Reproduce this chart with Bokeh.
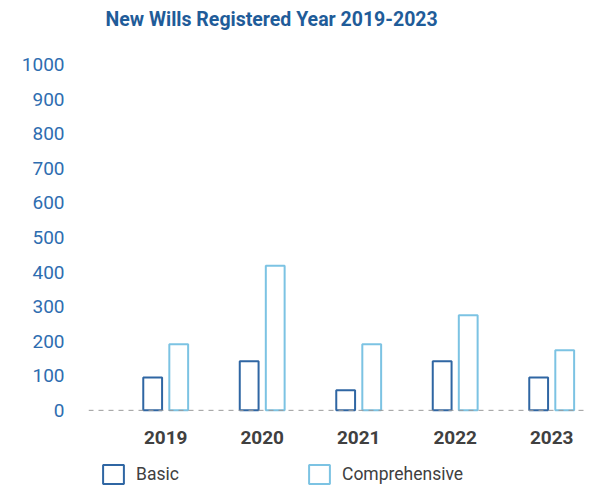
from bokeh.plotting import figure
from bokeh.models import FixedTicker, Legend, LegendItem, Range1d, Title, Span
from bokeh.core.properties import value
from bokeh.embed import file_html
from bokeh.resources import INLINE

years = ["2019", "2020", "2021", "2022", "2023"]
basic = [95, 142, 58, 142, 95]
comprehensive = [191, 418, 191, 275, 174]
y_ticks = [0, 100, 200, 300, 400, 500, 600, 700, 800, 900, 1000]

BASIC_C = "#2F66A3"
COMP_C = "#7CC3E3"
FONT = "Roboto"

# layout geometry (pixels)
W, H = 607, 486
FRAME_TOP = 36
ZERO_Y = 410
PX_PER_UNIT = 0.345
y_start = -(H - ZERO_Y) / PX_PER_UNIT
y_end = y_start + (H - FRAME_TOP) / PX_PER_UNIT

xs = list(range(len(years)))
p = figure(width=W, height=H, output_backend="svg", toolbar_location=None,
           x_range=Range1d(-0.8, 4.34), y_range=Range1d(y_start, y_end),
           min_border_left=88, min_border_right=23, min_border_bottom=0,
           min_border_top=0)
p.title = Title(text="New Wills Registered Year 2019-2023", align="left", offset=17,
                text_font=FONT, text_font_size="19.5px", text_font_style="bold",
                text_color="#1F5C99", standoff=10)

r1 = p.vbar(x=[x - 0.135 for x in xs], top=basic, width=0.195, fill_color=None,
            line_color=BASIC_C, line_width=2)
r2 = p.vbar(x=[x + 0.135 for x in xs], top=comprehensive, width=0.195, fill_color=None,
            line_color=COMP_C, line_width=2)

# dashed baseline
p.add_layout(Span(location=0, dimension="width", line_color="#999999",
                  line_dash="5 5", line_width=1))

# category labels under the baseline
p.text(x=xs, y=[0] * len(xs), text=years, y_offset=27, text_align="center",
       text_baseline="middle", text_font=value(FONT), text_font_size="19px",
       text_font_style="bold", text_color="#404040")

p.xgrid.visible = False
p.ygrid.visible = False
p.outline_line_color = None
p.xaxis.visible = False

p.yaxis.ticker = FixedTicker(ticks=y_ticks)
p.yaxis.major_tick_line_color = None
p.yaxis.minor_tick_line_color = None
p.yaxis.axis_line_color = None
p.yaxis.major_label_text_font = FONT
p.yaxis.major_label_text_font_size = "19px"
p.yaxis.major_label_text_color = "#2E6DB0"
p.yaxis.major_label_standoff = 18

legend = Legend(items=[LegendItem(label="Basic", renderers=[r1]),
                       LegendItem(label="Comprehensive", renderers=[r2])],
                orientation="horizontal", location=(12, 0),
                glyph_width=26, glyph_height=24, label_standoff=10,
                label_width=160, spacing=10, padding=0, margin=0,
                border_line_color=None, background_fill_alpha=0,
                label_text_font=FONT, label_text_font_size="17.5px",
                label_text_color="#404040")
p.add_layout(legend, "center")

open("out.html", "w").write(file_html(p, INLINE))
